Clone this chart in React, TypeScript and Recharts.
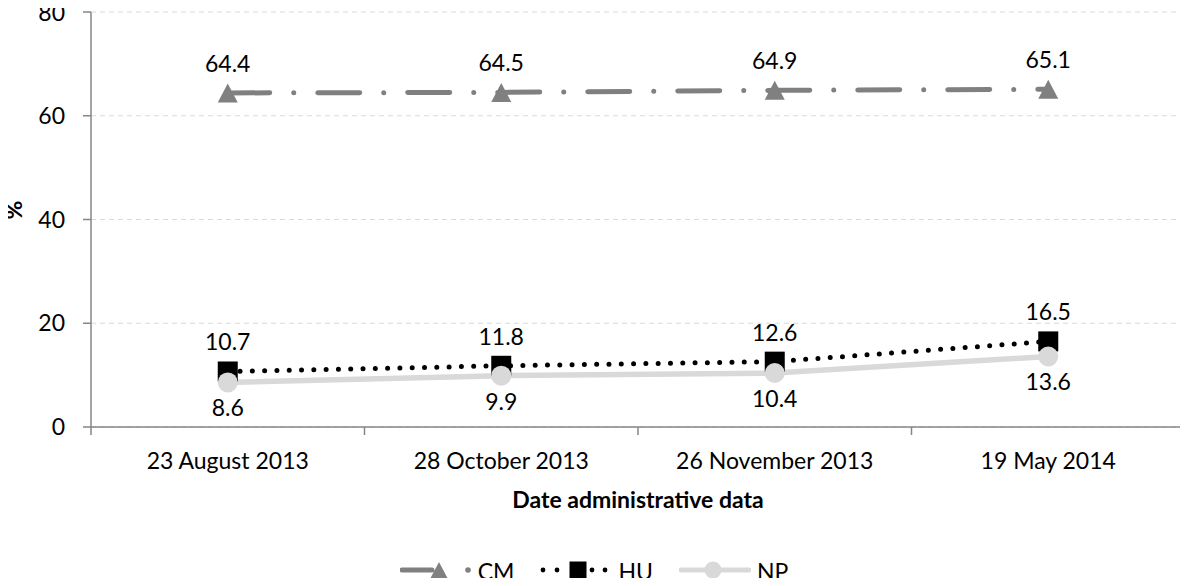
import { CartesianGrid, Label, LabelList, Legend, Line, LineChart, XAxis, YAxis } from 'recharts';

const dates = ['23 August 2013', '28 October 2013', '26 November 2013', '19 May 2014'];
const cmValues = [64.4, 64.5, 64.9, 65.1];
const huValues = [10.7, 11.8, 12.6, 16.5];
const npValues = [8.6, 9.9, 10.4, 13.6];
const yTicks = [0, 20, 40, 60, 80];

const data = dates.map((date, i) => ({ date, CM: cmValues[i], HU: huValues[i], NP: npValues[i] }));

const W = 1188;
const H = 586;
const LEFT = 91;
const RIGHT = 3;
const BAND = (W - LEFT - RIGHT) / dates.length;
const FONT = 'Lato, "Open Sans", sans-serif';
const FS = 23;
const AXIS = '#868686';
const CM_COLOR = '#808080';
const HU_COLOR = '#000000';
const NP_COLOR = '#d9d9d9';

function TriangleMark({ cx, cy, size, fill }: any) {
  const h = size * 0.95;
  return (
    <polygon
      points={`${cx},${cy - h / 2} ${cx + size / 2},${cy + h / 2} ${cx - size / 2},${cy + h / 2}`}
      fill={fill}
    />
  );
}

function SquareMark({ cx, cy, size, fill }: any) {
  return <rect x={cx - size / 2} y={cy - size / 2} width={size} height={size} fill={fill} />;
}

function CircleMark({ cx, cy, size, fill }: any) {
  return <circle cx={cx} cy={cy} r={size / 2} fill={fill} />;
}

const makeLabel = (dy: number) => (props: any) => {
  const x = props.x ?? props.viewBox?.x;
  const y = props.y ?? props.viewBox?.y;
  return (
    <text x={x} y={y + dy} textAnchor="middle" fontFamily={FONT} fontSize={FS} fill="#000">
      {Number(props.value).toFixed(1)}
    </text>
  );
};

function DateTick({ x, y, payload, index }: any) {
  const last = index === dates.length - 1;
  return (
    <g>
      <line x1={x - BAND / 2} x2={x - BAND / 2} y1={y} y2={y + 8} stroke={AXIS} strokeWidth={1.5} />
      {last && <line x1={x + BAND / 2} x2={x + BAND / 2} y1={y} y2={y + 8} stroke={AXIS} strokeWidth={1.5} />}
      <text x={x} y={y + 42} textAnchor="middle" fontFamily={FONT} fontSize={FS} fill="#000">
        {payload.value}
      </text>
    </g>
  );
}

function LegendIcon({ name }: { name: string }) {
  if (name === 'CM') {
    return (
      <svg width={72} height={22} style={{ display: 'block' }}>
        <line x1={2} x2={32} y1={11} y2={11} stroke={CM_COLOR} strokeWidth={5} strokeLinecap="round" />
        <TriangleMark cx={39} cy={11} size={17} fill={CM_COLOR} />
        <circle cx={68} cy={11} r={2.8} fill={CM_COLOR} />
      </svg>
    );
  }
  if (name === 'HU') {
    return (
      <svg width={72} height={22} style={{ display: 'block' }}>
        {[3, 17, 52, 65].map((d) => (
          <circle key={d} cx={d} cy={11} r={2.4} fill={HU_COLOR} />
        ))}
        <SquareMark cx={38} cy={11} size={17} fill={HU_COLOR} />
      </svg>
    );
  }
  return (
    <svg width={72} height={22} style={{ display: 'block' }}>
      <line x1={2} x2={70} y1={11} y2={11} stroke={NP_COLOR} strokeWidth={5} strokeLinecap="round" />
      <CircleMark cx={34} cy={11} size={17} fill={NP_COLOR} />
    </svg>
  );
}

function LegendContent({ payload }: any) {
  return (
    <div
      style={{
        height: 40,
        paddingTop: 8,
        boxSizing: 'border-box',
        display: 'flex',
        justifyContent: 'center',
        alignItems: 'center',
        fontFamily: FONT,
        fontSize: FS,
        lineHeight: '24px',
        color: '#000',
      }}
    >
      {(payload || []).map((p: any) => (
        <div key={p.value} style={{ display: 'flex', alignItems: 'center', margin: '0 13px' }}>
          <LegendIcon name={p.value} />
          <span style={{ marginLeft: 6, position: 'relative', top: 1 }}>{p.value}</span>
        </div>
      ))}
    </div>
  );
}

export default function App() {
  return (
    <div style={{ margin: -8, width: W, height: H, background: '#fff', overflow: 'hidden' }}>
      <style>{'.recharts-surface{overflow:visible}'}</style>
      <LineChart width={W} height={H} data={data} margin={{ top: 12, right: RIGHT, left: 0, bottom: 0 }}>
        <CartesianGrid vertical={false} stroke={NP_COLOR} strokeDasharray="5 4" strokeWidth={1.2} />
        <XAxis
          dataKey="date"
          height={119}
          padding={{ left: BAND / 2, right: BAND / 2 }}
          axisLine={{ stroke: AXIS, strokeWidth: 1.5 }}
          tickLine={false}
          tickSize={0}
          tickMargin={0}
          tick={<DateTick />}
          interval={0}
        >
          <Label
            value="Date administrative data"
            position="insideTop"
            offset={65}
            style={{ fontFamily: FONT, fontSize: FS, fontWeight: 700, fill: '#000' }}
          />
        </XAxis>
        <YAxis
          width={LEFT}
          domain={[0, 80]}
          ticks={yTicks}
          axisLine={{ stroke: AXIS, strokeWidth: 1.5 }}
          tickLine={{ stroke: AXIS, strokeWidth: 1.5 }}
          tickSize={8}
          tickMargin={18}
          tick={{ fontFamily: FONT, fontSize: FS, fill: '#000' }}
        >
          <Label
            value="%"
            angle={-90}
            position="insideLeft"
            offset={14}
            style={{ fontFamily: FONT, fontSize: FS, fontWeight: 700, fill: '#000' }}
          />
        </YAxis>
        <Legend
          verticalAlign="bottom"
          height={40}
          content={<LegendContent />}
          wrapperStyle={{ top: 546, bottom: 'auto', left: 0, width: W, height: 40 }}
        />
        <Line
          dataKey="CM"
          stroke={CM_COLOR}
          strokeWidth={5}
          strokeDasharray="42 24 0 24"
          strokeLinecap="round"
          isAnimationActive={false}
          activeDot={false}
          dot={(p: any) => <TriangleMark key={`cm-${p.index}`} cx={p.cx} cy={p.cy} size={20} fill={CM_COLOR} />}
        >
          <LabelList dataKey="CM" content={makeLabel(-21)} />
        </Line>
        <Line
          dataKey="HU"
          stroke={HU_COLOR}
          strokeWidth={5}
          strokeDasharray="0 12.3"
          strokeLinecap="round"
          isAnimationActive={false}
          activeDot={false}
          dot={(p: any) => <SquareMark key={`hu-${p.index}`} cx={p.cx} cy={p.cy} size={20} fill={HU_COLOR} />}
        >
          <LabelList dataKey="HU" content={makeLabel(-21)} />
        </Line>
        <Line
          dataKey="NP"
          stroke={NP_COLOR}
          strokeWidth={5.5}
          isAnimationActive={false}
          activeDot={false}
          dot={(p: any) => <CircleMark key={`np-${p.index}`} cx={p.cx} cy={p.cy} size={20} fill={NP_COLOR} />}
        >
          <LabelList dataKey="NP" content={makeLabel(34)} />
        </Line>
      </LineChart>
    </div>
  );
}
